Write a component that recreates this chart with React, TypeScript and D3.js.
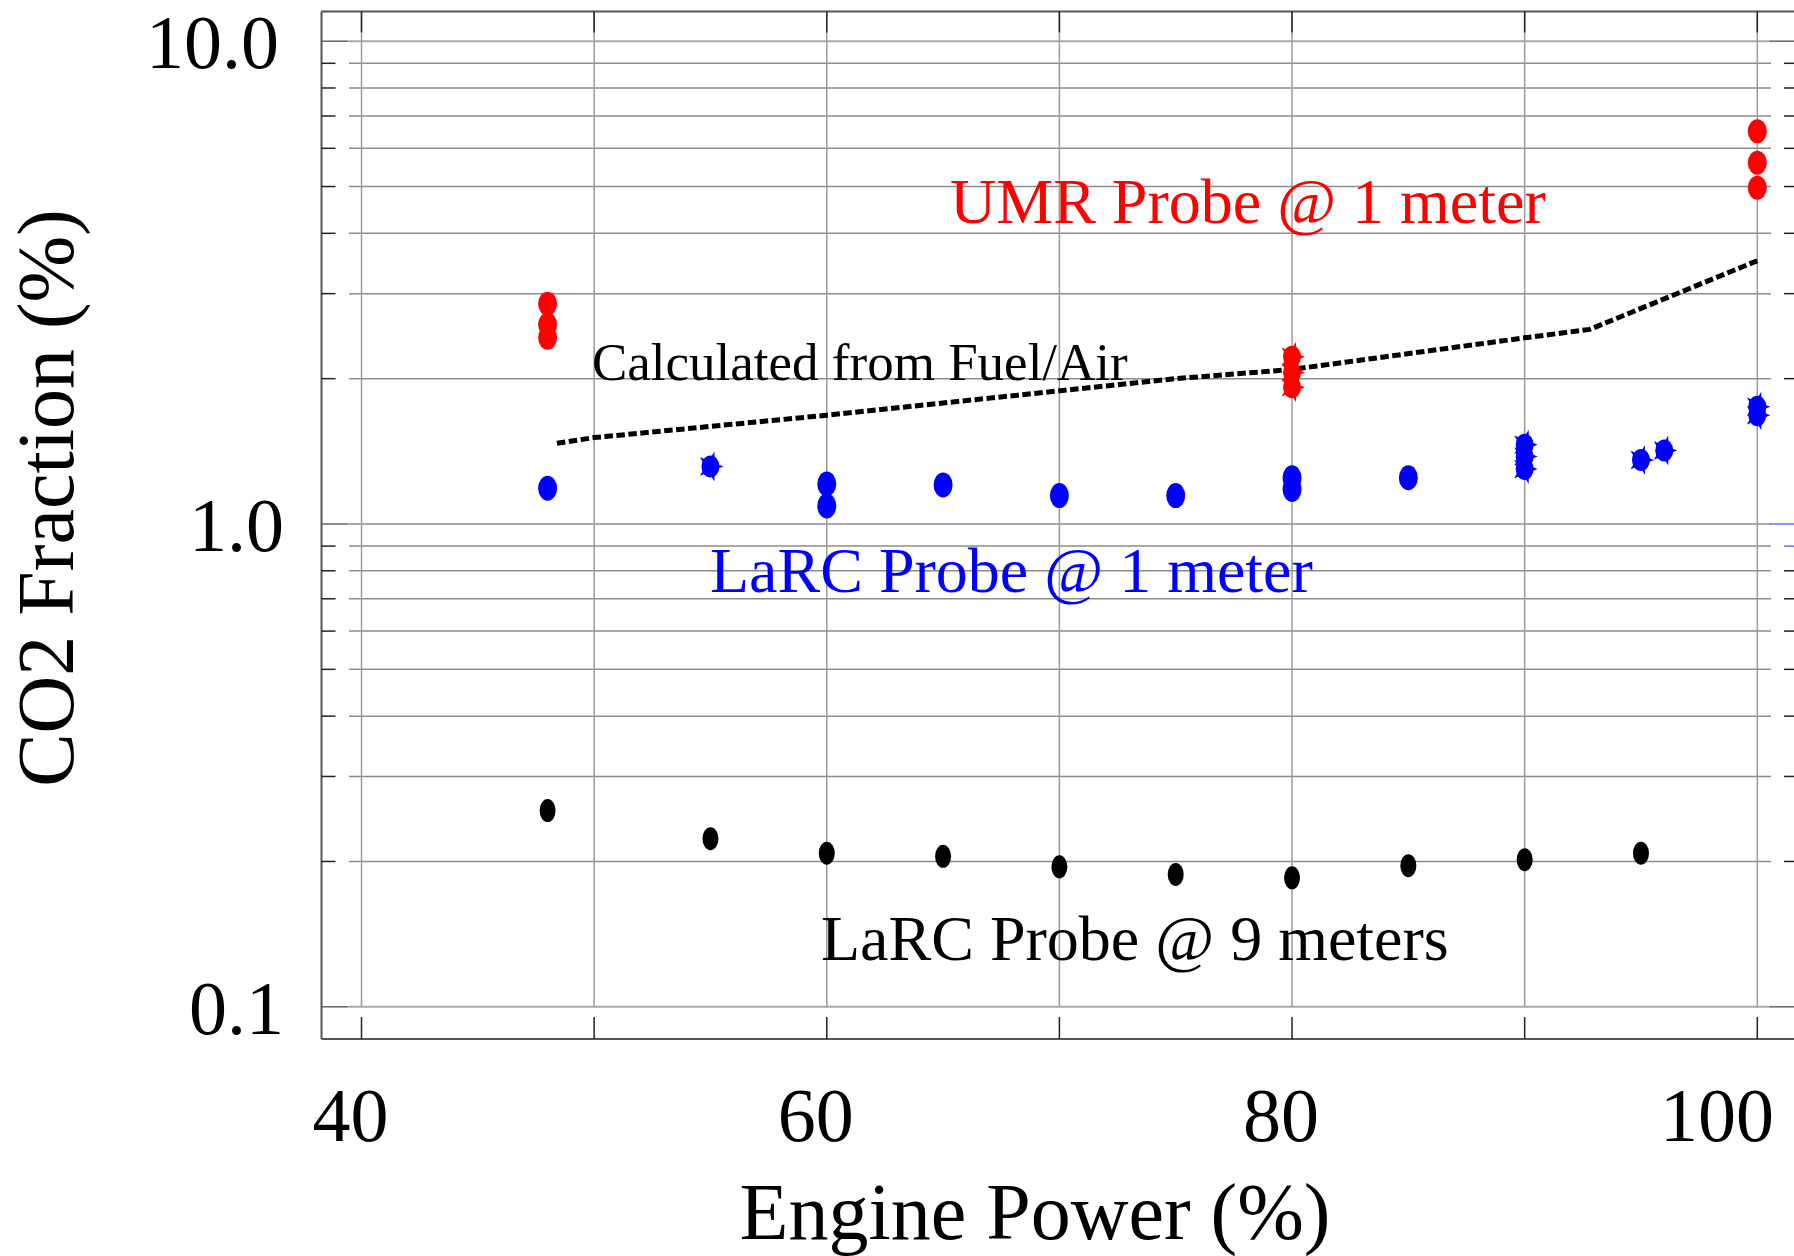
import React from "react";
import * as d3 from "d3";

// ---- data ----
const umrPower = [48, 48, 48, 100, 100, 100];
const umrCO2 = [2.86, 2.59, 2.43, 6.51, 5.6, 4.97];
const umrStarPower = [80, 80, 80];
const umrStarCO2 = [2.22, 2.06, 1.92];

const larc1Power = [48, 60, 60, 65, 70, 75, 80, 80, 85];
const larc1CO2 = [1.186, 1.21, 1.09, 1.205, 1.145, 1.145, 1.247, 1.18, 1.247];
const larc1StarPower = [55, 90, 90, 90, 95, 96, 100, 100];
const larc1StarCO2 = [1.315, 1.46, 1.38, 1.3, 1.357, 1.42, 1.75, 1.68];

const larc9Power = [48, 55, 60, 65, 70, 75, 80, 85, 90, 95];
const larc9CO2 = [0.255, 0.223, 0.208, 0.205, 0.195, 0.188, 0.185, 0.196, 0.2017, 0.208];

const calcPower = [48.4, 50, 60, 75, 80, 90, 92.8, 100];
const calcCO2 = [1.47, 1.51, 1.68, 2.0, 2.09, 2.43, 2.53, 3.51];

const xGridValues = [40, 50, 60, 70, 80, 90, 100];
const xTickLabels = [40, 60, 80, 100];
const yMajorValues = [0.1, 1, 10];
const yTickLabels = ["0.1", "1.0", "10.0"];

const W = 1794;
const H = 1256;
const FONT = "'Liberation Serif', 'Times New Roman', serif";

export default function App() {
  const x = d3.scaleLinear().domain([40, 100]).range([361.5, 1757.3]);
  const y = d3.scaleLog().domain([0.1, 10]).range([1006.8, 41.2]);

  const frameLeft = 321.5;
  const frameTop = 11.4;
  const frameBottom = 1039;
  const gridLeft = 349;
  const gridRight = 1771;

  const yMinor: number[] = [];
  [0.1, 1].forEach((dec) => {
    for (let k = 1; k <= 9; k++) yMinor.push(+(dec * k).toFixed(3));
  });
  yMinor.push(10);
  const isMajor = (v: number) => yMajorValues.some((m) => Math.abs(m - v) < 1e-9);

  const line = d3
    .line<number>()
    .x((_, i) => x(calcPower[i]))
    .y((_, i) => y(calcCO2[i]));

  const star = d3.symbol().type(d3.symbolStar).size(210)();

  const starMark = (px: number, py: number, color: string, key: string) => (
    <g key={key} transform={`translate(${px},${py})`}>
      <path d={star as string} transform="scale(0.95,1.15) rotate(18)" fill={color} />
      <ellipse rx={9} ry={11} fill={color} />
    </g>
  );

  return (
    <svg
      width={W}
      height={H}
      style={{ position: "fixed", left: 0, top: 0, background: "#fff" }}
    >
      <rect x={0} y={0} width={W} height={H} fill="#fff" />

      {/* horizontal grid lines */}
      {yMinor.map((v) => (
        <line
          key={"hg" + v}
          x1={gridLeft}
          x2={gridRight}
          y1={y(v)}
          y2={y(v)}
          stroke={isMajor(v) ? "#a8a8a8" : "#8c8c8c"}
          strokeWidth={isMajor(v) ? 2 : 1.5}
        />
      ))}
      {/* vertical grid lines */}
      {xGridValues.map((v) => (
        <line
          key={"vg" + v}
          x1={x(v)}
          x2={x(v)}
          y1={frameTop}
          y2={y(0.1)}
          stroke="#9a9a9a"
          strokeWidth={1.5}
        />
      ))}

      {/* frame */}
      <line x1={frameLeft} x2={W} y1={frameTop} y2={frameTop} stroke="#555" strokeWidth={2} />
      <line x1={frameLeft} x2={W} y1={frameBottom} y2={frameBottom} stroke="#555" strokeWidth={2} />
      <line x1={frameLeft} x2={frameLeft} y1={frameTop} y2={frameBottom} stroke="#555" strokeWidth={2} />

      {/* left & right y ticks */}
      {yMinor.map((v) => {
        const major = isMajor(v);
        const rightColor = Math.abs(v - 1) < 1e-9 || Math.abs(v - 0.9) < 1e-9 ? "#6a6aff" : "#222";
        return (
          <g key={"yt" + v}>
            <line
              x1={frameLeft}
              x2={frameLeft + (major ? 27 : 14)}
              y1={y(v)}
              y2={y(v)}
              stroke={major ? "#666" : "#222"}
              strokeWidth={1.5}
            />
            <line
              x1={major ? 1770 : 1784}
              x2={W}
              y1={y(v)}
              y2={y(v)}
              stroke={major && Math.abs(v - 1) > 1e-9 ? "#666" : rightColor}
              strokeWidth={1.5}
            />
          </g>
        );
      })}

      {/* top & bottom x ticks */}
      {xGridValues.map((v) => (
        <g key={"xt" + v}>
          <line x1={x(v)} x2={x(v)} y1={frameTop} y2={frameTop + 21} stroke="#222" strokeWidth={1.5} />
          <line x1={x(v)} x2={x(v)} y1={frameBottom - 22} y2={frameBottom} stroke="#222" strokeWidth={1.5} />
        </g>
      ))}

      {/* y tick labels */}
      {yMajorValues.map((v, i) => (
        <text
          key={"yl" + v}
          x={v === 10 ? 279 : 284}
          y={y(v) + 27}
          textAnchor="end"
          fontFamily={FONT}
          fontSize={76}
          fill="#000"
        >
          {yTickLabels[i]}
        </text>
      ))}

      {/* x tick labels */}
      {xTickLabels.map((v) => (
        <text
          key={"xl" + v}
          x={Math.min(x(v) - 11, 1717)}
          y={1141}
          textAnchor="middle"
          fontFamily={FONT}
          fontSize={76}
          fill="#000"
        >
          {v}
        </text>
      ))}

      {/* axis titles */}
      <text x={1035} y={1239} textAnchor="middle" fontFamily={FONT} fontSize={80} fill="#000">
        Engine Power (%)
      </text>
      <text
        transform="translate(73,498) rotate(-90)"
        textAnchor="middle"
        fontFamily={FONT}
        fontSize={80}
        fill="#000"
      >
        CO2 Fraction (%)
      </text>

      {/* calculated line */}
      <path
        d={line(calcPower) as string}
        fill="none"
        stroke="#000"
        strokeWidth={5}
        strokeDasharray="8.5,3.5"
      />

      {/* LaRC 9 m */}
      {larc9Power.map((p, i) => (
        <ellipse key={"b9" + i} cx={x(p)} cy={y(larc9CO2[i])} rx={8} ry={11.5} fill="#000" />
      ))}

      {/* LaRC 1 m */}
      {larc1Power.map((p, i) => (
        <ellipse key={"b1" + i} cx={x(p)} cy={y(larc1CO2[i])} rx={9.5} ry={12.5} fill="#0000ff" />
      ))}
      {larc1StarPower.map((p, i) => starMark(x(p), y(larc1StarCO2[i]), "#0000ff", "bs" + i))}

      {/* UMR */}
      {umrPower.map((p, i) => (
        <ellipse key={"r" + i} cx={x(p)} cy={y(umrCO2[i])} rx={9.5} ry={12} fill="#ff0000" />
      ))}
      {umrStarPower.map((p, i) => starMark(x(p), y(umrStarCO2[i]), "#ff0000", "rs" + i))}

      {/* annotations */}
      <text x={950} y={223} fontFamily={FONT} fontSize={64} fill="#ff0000">
        UMR Probe @ 1 meter
      </text>
      <text x={592} y={380} fontFamily={FONT} fontSize={53} fill="#000">
        Calculated from Fuel/Air
      </text>
      <text x={710} y={592} fontFamily={FONT} fontSize={64} fill="#0000ff">
        LaRC Probe @ 1 meter
      </text>
      <text x={821} y={960} fontFamily={FONT} fontSize={64} fill="#000">
        LaRC Probe @ 9 meters
      </text>
    </svg>
  );
}
